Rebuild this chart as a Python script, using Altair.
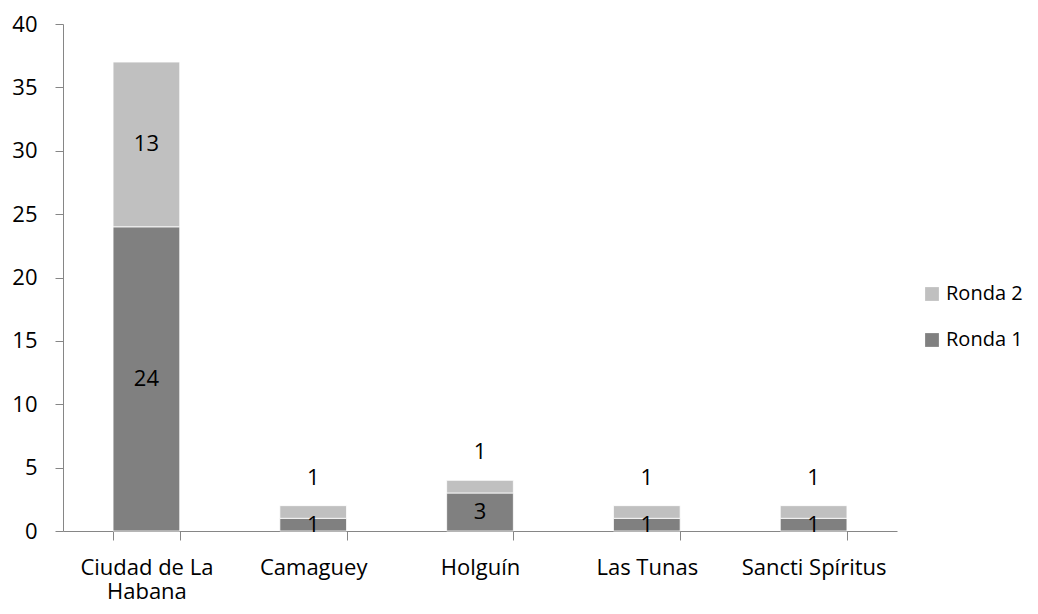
import altair as alt
import pandas as pd

regiones = ["Ciudad de La Habana", "Camaguey", "Holguín", "Las Tunas", "Sancti Spíritus"]
ronda1 = [24, 1, 3, 1, 1]
ronda2 = [13, 1, 1, 1, 1]
series = ["Ronda 2", "Ronda 1"]
colores = ["#C0C0C0", "#808080"]

rows = []
for r, a, b in zip(regiones, ronda1, ronda2):
    rows.append({"region": r, "ronda": "Ronda 1", "valor": a, "orden": 0})
    rows.append({"region": r, "ronda": "Ronda 2", "valor": b, "orden": 1})
df = pd.DataFrame(rows)

FONT = "Open Sans"
FS = 22
AX = "#868686"

x = alt.X(
    "region:N",
    sort=regiones,
    title=None,
    scale=alt.Scale(paddingInner=0.6, paddingOuter=0.3),
    axis=alt.Axis(
        labelAngle=0,
        tickBand="extent",
        tickSize=9,
        labelPadding=17,
        labelFontSize=FS,
        labelFont=FONT,
        labelColor="#000000",
        labelLineHeight=24,
        domainColor=AX,
        tickColor=AX,
        labelLimit=300,
        labelExpr="datum.value == 'Ciudad de La Habana' ? ['Ciudad de La', 'Habana'] : datum.value",
    ),
)

base = alt.Chart(df).transform_stack(
    stack="valor", groupby=["region"], as_=["y0", "y1"], sort=[alt.SortField("orden", order="ascending")]
).transform_calculate(
    mid="(datum.y0 + datum.y1) / 2",
    pos="datum.ronda == 'Ronda 2' && datum.valor < 2 ? 'above' : 'center'",
)

bars = base.mark_bar(stroke="white", strokeWidth=0.8).encode(
    x=x,
    y=alt.Y(
        "y1:Q",
        title=None,
        scale=alt.Scale(domain=[0, 40]),
        axis=alt.Axis(
            values=list(range(0, 41, 5)),
            grid=False,
            tickSize=8,
            labelPadding=18,
            labelFontSize=FS,
            labelFont=FONT,
            labelColor="#000000",
            domainColor=AX,
            tickColor=AX,
        ),
    ),
    y2="y0:Q",
    color=alt.Color(
        "ronda:N",
        scale=alt.Scale(domain=series, range=colores),
        legend=alt.Legend(
            title=None,
            orient="none",
            legendX=859,
            legendY=260,
            symbolType="square",
            symbolSize=190,
            symbolStrokeWidth=0,
            labelFontSize=20,
            labelFont=FONT,
            labelColor="#000000",
            rowPadding=26,
            labelOffset=4,
            labelLimit=200,
        ),
    ),
)

center = base.transform_filter("datum.pos == 'center'").mark_text(
    fontSize=FS, font=FONT, color="#000000"
).encode(x=alt.X("region:N", sort=regiones), y="mid:Q", text="valor:Q")

above = base.transform_filter("datum.pos == 'above'").mark_text(
    fontSize=FS, font=FONT, color="#000000", dy=-28
).encode(x=alt.X("region:N", sort=regiones), y="y1:Q", text="valor:Q")

chart = alt.layer(bars, center, above).properties(
    width=834,
    height=507,
    autosize=alt.AutoSizeParams(type="none"),
    padding={"left": 55, "top": 16, "right": 132, "bottom": 75},
).configure_view(stroke=None)

chart.save("out.html", embed_options={"renderer": "svg", "actions": False})
